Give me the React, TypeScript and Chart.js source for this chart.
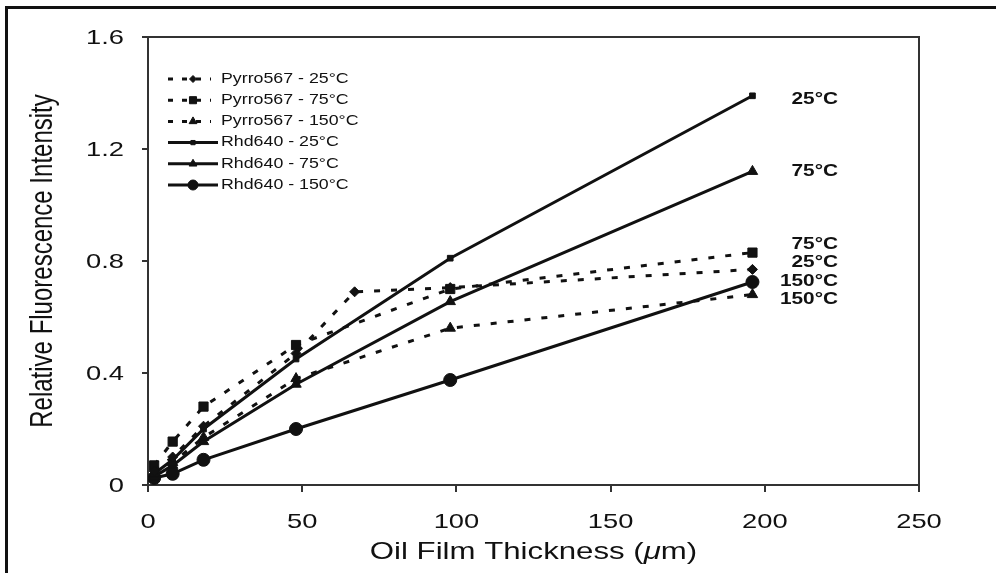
import React, { useEffect, useRef } from "react";
import { Chart, registerables } from "chart.js";
import { drawPoint } from "chart.js/helpers";

Chart.register(...registerables);

// ---- data ----
const thicknessRhd = [2, 8, 18, 48, 98, 196];
const thicknessPyrro = [2, 8, 18, 48, 98, 196];
const thicknessPyrro25 = [2, 8, 18, 48, 67, 98, 196];

const pyrro25 = [0.05, 0.1, 0.21, 0.47, 0.69, 0.705, 0.77];
const pyrro75 = [0.07, 0.155, 0.28, 0.5, 0.7, 0.83];
const pyrro150 = [0.04, 0.08, 0.17, 0.38, 0.56, 0.68];
const rhd25 = [0.04, 0.09, 0.2, 0.45, 0.81, 1.39];
const rhd75 = [0.03, 0.07, 0.155, 0.36, 0.655, 1.12];
const rhd150 = [0.025, 0.04, 0.09, 0.2, 0.375, 0.725];

const seriesNames = [
  "Pyrro567 - 25°C",
  "Pyrro567 - 75°C",
  "Pyrro567 - 150°C",
  "Rhd640 - 25°C",
  "Rhd640 - 75°C",
  "Rhd640 - 150°C",
];

const xTickValues = [0, 50, 100, 150, 200, 250];
const xTickLabels = ["0", "50", "100", "150", "200", "250"];
const yTickValues = [0, 0.4, 0.8, 1.2, 1.6];
const yTickLabels = ["0", "0.4", "0.8", "1.2", "1.6"];

const xTitle = ["Oil Film Thickness (", "μ", "m)"];
const yTitle = "Relative Fluorescence Intensity";

// end-of-line annotations: [text, value at x=196]
const endLabels: [string, number][] = [
  ["25°C", 1.375],
  ["75°C", 1.12],
  ["75°C", 0.86],
  ["25°C", 0.795],
  ["150°C", 0.727],
  ["150°C", 0.663],
];

const INK = "#111111";
const SX = 1.3; // horizontal stretch of the reference's lettering

function pts(xs: number[], ys: number[]) {
  return xs.map((x, i) => ({ x, y: ys[i] }));
}

function stretchedText(
  ctx: CanvasRenderingContext2D,
  text: string,
  x: number,
  y: number,
  font: string,
  align: CanvasTextAlign,
  sx = SX
) {
  ctx.save();
  ctx.translate(x, y);
  ctx.scale(sx, 1);
  ctx.font = font;
  ctx.textAlign = align;
  ctx.textBaseline = "middle";
  ctx.fillStyle = INK;
  ctx.fillText(text, 0, 0);
  ctx.restore();
}

const decorPlugin = {
  id: "decor",
  beforeDraw(chart: any) {
    const ctx = chart.ctx as CanvasRenderingContext2D;
    ctx.save();
    ctx.fillStyle = "#ffffff";
    ctx.fillRect(0, 0, chart.width, chart.height);
    ctx.restore();
  },
  afterDraw(chart: any) {
    const ctx = chart.ctx as CanvasRenderingContext2D;
    const area = chart.chartArea;
    const xs = chart.scales.x;
    const ys = chart.scales.y;

    // outer frame (top + left)
    ctx.save();
    ctx.strokeStyle = "#111";
    ctx.lineWidth = 3;
    ctx.beginPath();
    ctx.moveTo(6.5, chart.height);
    ctx.lineTo(6.5, 7.5);
    ctx.lineTo(chart.width, 7.5);
    ctx.stroke();

    // plot box top/right
    ctx.strokeStyle = "#333";
    ctx.lineWidth = 2;
    ctx.beginPath();
    ctx.moveTo(area.left, area.top);
    ctx.lineTo(area.right, area.top);
    ctx.lineTo(area.right, area.bottom);
    ctx.stroke();
    ctx.restore();

    // tick labels
    xTickValues.forEach((v, i) => {
      stretchedText(ctx, xTickLabels[i], xs.getPixelForValue(v), 522, "21px 'Liberation Sans', Arial, sans-serif", "center");
    });
    yTickValues.forEach((v, i) => {
      stretchedText(ctx, yTickLabels[i], 124, ys.getPixelForValue(v) + 1, "21px 'Liberation Sans', Arial, sans-serif", "right");
    });

    // x title with italic mu
    {
      const reg = "24px 'Liberation Sans', Arial, sans-serif";
      const ita = "italic 24px 'Liberation Sans', Arial, sans-serif";
      ctx.save();
      ctx.font = reg;
      const w0 = ctx.measureText(xTitle[0]).width;
      const w2 = ctx.measureText(xTitle[2]).width;
      ctx.font = ita;
      const w1 = ctx.measureText(xTitle[1]).width;
      ctx.restore();
      const total = (w0 + w1 + w2) * SX;
      const cx = (area.left + area.right) / 2;
      let x = cx - total / 2;
      stretchedText(ctx, xTitle[0], x, 552, reg, "left");
      x += w0 * SX;
      stretchedText(ctx, xTitle[1], x, 552, ita, "left");
      x += w1 * SX;
      stretchedText(ctx, xTitle[2], x, 552, reg, "left");
    }

    // y title rotated
    ctx.save();
    ctx.translate(43, (area.top + area.bottom) / 2);
    ctx.rotate(-Math.PI / 2);
    ctx.scale(1, SX);
    ctx.font = "24px 'Liberation Sans', Arial, sans-serif";
    ctx.textAlign = "center";
    ctx.textBaseline = "middle";
    ctx.fillStyle = INK;
    ctx.fillText(yTitle, 0, 0);
    ctx.restore();

    // legend inside the plot
    const rowY0 = 79;
    const rowH = 21.2;
    chart.data.datasets.forEach((ds: any, i: number) => {
      const y = rowY0 + i * rowH;
      ctx.save();
      ctx.strokeStyle = INK;
      ctx.fillStyle = INK;
      ctx.lineWidth = 3;
      const dashed = !!(ds.borderDash && ds.borderDash.length);
      ctx.setLineDash(dashed ? [5, 9] : []);
      ctx.beginPath();
      ctx.moveTo(168, y);
      ctx.lineTo(dashed ? 211 : 218, y);
      ctx.stroke();
      ctx.setLineDash([]);
      ctx.lineWidth = 1;
      drawPoint(ctx, { pointStyle: ds.pointStyle, radius: Math.max(3, ds.pointRadius - 1.5), rotation: 0, borderWidth: 1 } as any, 193, y);
      ctx.restore();
      stretchedText(ctx, seriesNames[i], 221, y, "14px 'Liberation Sans', Arial, sans-serif", "left", 1.27);
    });

    // end labels
    endLabels.forEach(([t, v]) => {
      stretchedText(ctx, t, 838, ys.getPixelForValue(v), "bold 16px 'Liberation Sans', Arial, sans-serif", "right");
    });
  },
};

export default function App() {
  const canvasRef = useRef<HTMLCanvasElement | null>(null);

  useEffect(() => {
    const canvas = canvasRef.current;
    if (!canvas) return;

    const mk = (label: string, data: any[], dashed: boolean, style: string, radius: number) => ({
      label,
      data,
      borderColor: INK,
      backgroundColor: INK,
      borderWidth: 3,
      borderDash: dashed ? [6, 11] : [],
      pointStyle: style,
      pointRadius: radius,
      pointBorderWidth: 1,
      pointBackgroundColor: INK,
      pointBorderColor: INK,
      tension: 0,
      fill: false,
    });

    const chart = new Chart(canvas, {
      type: "line",
      data: {
        datasets: [
          mk(seriesNames[0], pts(thicknessPyrro25, pyrro25), true, "rectRot", 5),
          mk(seriesNames[1], pts(thicknessPyrro, pyrro75), true, "rect", 6.5),
          mk(seriesNames[2], pts(thicknessPyrro, pyrro150), true, "triangle", 6),
          mk(seriesNames[3], pts(thicknessRhd, rhd25), false, "rect", 4),
          mk(seriesNames[4], pts(thicknessRhd, rhd75), false, "triangle", 6),
          mk(seriesNames[5], pts(thicknessRhd, rhd150), false, "circle", 6.5),
        ] as any,
      },
      options: {
        animation: false,
        responsive: false,
        maintainAspectRatio: false,
        layout: { padding: { left: 0, top: 37, right: 77, bottom: 0 } },
        plugins: { legend: { display: false }, tooltip: { enabled: false }, title: { display: false } },
        scales: {
          x: {
            type: "linear",
            min: 0,
            max: 250,
            afterBuildTicks: (s: any) => {
              s.ticks = xTickValues.map((v) => ({ value: v }));
            },
            afterFit: (s: any) => {
              s.height = 88;
            },
            ticks: { display: false },
            grid: { drawOnChartArea: false, drawTicks: true, tickLength: 7, color: "#333", lineWidth: 2 },
            border: { display: true, color: "#333", width: 2 },
          },
          y: {
            type: "linear",
            min: 0,
            max: 1.6,
            afterBuildTicks: (s: any) => {
              s.ticks = yTickValues.map((v) => ({ value: v }));
            },
            afterFit: (s: any) => {
              s.width = 148;
            },
            ticks: { display: false },
            grid: { drawOnChartArea: false, drawTicks: true, tickLength: 6, color: "#333", lineWidth: 2 },
            border: { display: true, color: "#333", width: 2 },
          },
        },
      } as any,
      plugins: [decorPlugin],
    });

    return () => chart.destroy();
  }, []);

  return (
    <div style={{ position: "absolute", left: 0, top: 0, width: 996, height: 573, background: "#fff" }}>
      <canvas ref={canvasRef} width={996} height={573} style={{ display: "block", width: 996, height: 573 }} />
    </div>
  );
}
